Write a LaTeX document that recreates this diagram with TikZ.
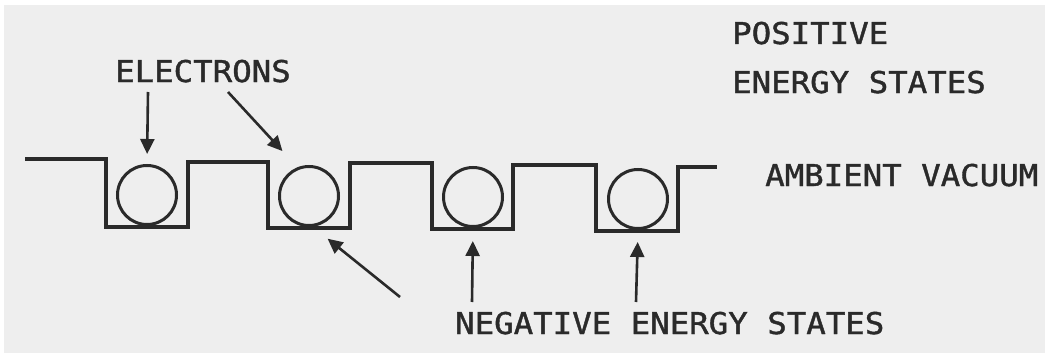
\documentclass[tikz,border=0pt]{standalone}
\usepackage{fontspec}
\newfontfamily\plotfont[FakeStretch=1.08,FakeBold=1.3]{DejaVu Sans Mono}
\usetikzlibrary{arrows.meta}
\definecolor{ink}{HTML}{2A2A2A}
\definecolor{paper}{HTML}{EEEEEE}
\begin{document}
\begin{tikzpicture}[x=1pt,y=-1pt,
  wave/.style={draw=ink,line width=3.4pt,line join=miter},
  electron/.style={circle,draw=ink,line width=3pt,minimum size=59pt,inner sep=0pt},
  lbl/.style={font=\plotfont\fontsize{30}{36}\selectfont,text=ink,inner sep=0pt,anchor=base west},
  pointer/.style={draw=ink,line width=2.6pt,-{Triangle[length=15pt,width=14pt]}}]
\fill[white] (0,0) rectangle (1045,353);
\fill[paper] (4,5) rectangle (1045,353);
\useasboundingbox (0,0) rectangle (1045,353);
% waveform
\draw[wave] (25,159) -- (106,159) -- (106,227) -- (188,227) -- (188,162)
  -- (268,162) -- (268,228) -- (350,228) -- (350,163)
  -- (432,163) -- (432,229) -- (513,229) -- (513,165)
  -- (596,165) -- (596,231) -- (678,231) -- (678,167) -- (717,167);
% electrons
\node[electron] (e1) at (147,195) {};
\node[electron] (e2) at (309,196) {};
\node[electron] (e3) at (473,197) {};
\node[electron] (e4) at (638,199) {};
% labels
\node[lbl] (elec) at (115,82) {ELECTRONS};
\node[lbl] (pos1) at (732,44) {POSITIVE};
\node[lbl] (pos2) at (732,93) {ENERGY STATES};
\node[lbl] (amb) at (765,186) {AMBIENT VACUUM};
\node[lbl] (neg) at (455,334) {NEGATIVE ENERGY STATES};
% arrow tails
\coordinate (t1) at (148,92);
\coordinate (t2) at (228,92);
\coordinate (t3) at (400,297);
\coordinate (t4) at (472,302);
\coordinate (t5) at (636,302);
% arrows
\draw[pointer,shorten >=10pt] (t1) -- (e1.north);
\draw[pointer,shorten >=22pt] (t2) -- (e2.112);
\draw[pointer,shorten >=19pt] (t3) -- (e2.-83);
\draw[pointer,shorten >=13pt] (t4) -- (e3.south);
\draw[pointer,shorten >=12pt] (t5) -- (e4.south);
\end{tikzpicture}
\end{document}
